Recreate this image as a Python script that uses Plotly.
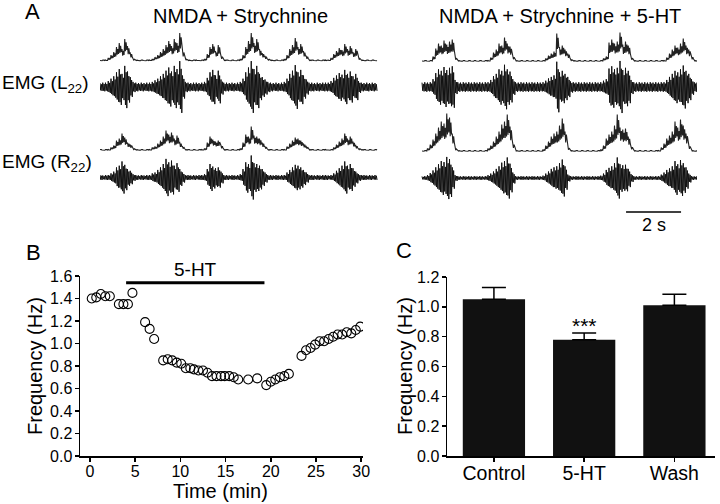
import plotly.graph_objects as go

# ---------------- Panel A: EMG envelopes (sampled every 0.1 s, 10 s sweeps) ----------------
DT = 0.1  # s between samples
emg_left_L = [0.5, 1, 1, 3, 6, 9, 14, 18, 12, 22, 15, 8, 2, 1, 0.5, 1, 0.5, 1, 1, 2,
              4, 6, 9, 12, 16, 20, 15, 22, 18, 28, 10, 2, 1, 0.5, 1, 1, 0.5, 1, 2, 7,
              14, 17, 10, 16, 5, 1, 1, 0.5, 1, 0.5, 1, 2, 6, 14, 20, 28, 18, 22, 12, 8,
              5, 2, 1, 0.5, 1, 0.5, 1, 2, 6, 12, 16, 23, 14, 17, 10, 5, 1, 1, 0.5, 1,
              0.5, 1, 1, 1, 3, 7, 10, 13, 11, 17, 12, 15, 9, 12, 3, 1, 0.5, 1, 0.5, 1, 0.5]
emg_left_R = [1, 0.5, 1, 1, 3, 5, 10, 12, 17, 13, 8, 6, 2, 1, 0.5, 1, 0.5, 1, 1, 3,
              4, 7, 10, 14, 20, 16, 18, 12, 15, 8, 4, 1, 1, 0.5, 1, 0.5, 1, 1, 2, 8,
              14, 11, 9, 10, 5, 1, 1, 0.5, 1, 0.5, 1, 2, 8, 16, 14, 24, 15, 14, 12, 8,
              4, 1, 1, 0.5, 1, 0.5, 1, 1, 4, 7, 10, 13, 12, 10, 7, 4, 1, 1, 0.5, 1,
              0.5, 1, 1, 0.5, 1, 3, 6, 9, 12, 17, 12, 14, 9, 5, 2, 1, 1, 0.5, 1, 0.5, 1]
emg_right_L = [0.5, 1, 0.5, 1, 5, 13, 18, 16, 21, 17, 20, 22, 4, 1, 0.5, 1, 0.5, 1, 0.5, 1,
               0.5, 1, 0.5, 1, 1, 4, 9, 12, 18, 16, 24, 18, 15, 5, 1, 0.5, 1, 0.5, 1, 0.5,
               1, 0.5, 1, 0.5, 1, 3, 6, 8, 10, 28, 14, 16, 12, 8, 2, 1, 0.5, 1, 0.5, 1,
               0.5, 1, 0.5, 1, 0.5, 1, 3, 5, 19, 22, 18, 20, 29, 17, 20, 16, 4, 1, 0.5, 1,
               0.5, 1, 0.5, 1, 0.5, 1, 0.5, 1, 1, 4, 8, 12, 16, 14, 18, 23, 16, 12, 5, 1, 0.5]
emg_right_R = [0.5, 1, 3, 7, 12, 18, 24, 30, 28, 38, 34, 18, 3, 1, 0.5, 1, 0.5, 1, 0.5, 1,
               0.5, 1, 0.5, 1, 3, 6, 10, 15, 20, 27, 30, 37, 25, 8, 1, 0.5, 1, 0.5, 1, 0.5,
               1, 0.5, 1, 0.5, 2, 6, 10, 15, 18, 20, 26, 33, 20, 4, 1, 0.5, 1, 0.5, 1, 0.5,
               1, 0.5, 1, 0.5, 1, 2, 6, 13, 17, 20, 26, 37, 24, 22, 23, 15, 5, 1, 0.5, 1,
               0.5, 1, 0.5, 1, 0.5, 1, 1, 4, 8, 13, 16, 20, 30, 24, 32, 26, 18, 6, 1, 0.5, 1]
scale_bar_s = 2.0
scale_bar_label = "2 s"
cond_titles = ["NMDA + Strychnine", "NMDA + Strychnine + 5-HT"]
emg_labels = ["EMG (L<sub>22</sub>)", "EMG (R<sub>22</sub>)"]

# ---------------- Panel B: burst frequency over time ----------------
time_min = [0.2, 0.7, 1.2, 1.7, 2.2, 3.2, 3.7, 4.2, 4.7, 6.1, 6.6, 7.1, 8.1, 8.6, 9.1,
            9.6, 10.1, 10.6, 11.1, 11.5, 12.0, 12.5, 13.0, 13.5, 14.0, 14.5, 14.9, 15.4,
            15.9, 16.4, 17.5, 18.5, 19.5, 20.0, 20.5, 21.0, 21.5, 22.0, 23.4, 23.9, 24.4,
            24.9, 25.4, 25.9, 26.4, 26.9, 27.4, 27.9, 28.4, 28.9, 29.4, 29.9]
freq_hz = [1.40, 1.41, 1.44, 1.42, 1.42, 1.35, 1.35, 1.35, 1.45, 1.19, 1.13, 1.04, 0.85,
           0.86, 0.85, 0.83, 0.82, 0.78, 0.78, 0.77, 0.76, 0.76, 0.74, 0.71, 0.71, 0.71,
           0.71, 0.71, 0.70, 0.68, 0.68, 0.69, 0.63, 0.66, 0.68, 0.70, 0.71, 0.73, 0.89,
           0.94, 0.96, 0.99, 1.02, 1.02, 1.04, 1.06, 1.08, 1.08, 1.10, 1.09, 1.12, 1.15]
ht_start, ht_end = 4.0, 19.3
b_xticks = [0, 5, 10, 15, 20, 25, 30]

# ---------------- Panel C: mean frequency ----------------
conditions = ["Control", "5-HT", "Wash"]
mean_hz = [1.05, 0.78, 1.01]
sem_hz = [0.08, 0.045, 0.075]
signif = ["", "***", ""]

FONT = "Liberation Sans, Arial, sans-serif"
W, H = 720, 504


def px(x):
    return x / W


def py(y):
    return 1 - y / H


fig = go.Figure()

# Panel A traces: (data, time offset, integrated baseline, raw baseline, noise, gain)
SWEEP_GAP = 11.71
traces_a = [
    (emg_left_L, 0.0, 61.0, 87.0, 3.5, 0.8),
    (emg_left_R, 0.0, 150.5, 177.5, 1.6, 0.85),
    (emg_right_L, SWEEP_GAP, 61.5, 87.0, 4.0, 0.76),
    (emg_right_R, SWEEP_GAP, 151.5, 178.0, 1.3, 0.52),
]
for data, off, b_int, b_raw, noise, gain in traces_a:
    ix, iy = [], []
    for i, v in enumerate(data):
        t = off + i * DT
        ix += [t, t + DT / 4, t + DT / 2, t + 3 * DT / 4]
        iy += [b_int - v, b_int - 0.45 * v, b_int - 0.85 * v, b_int - 0.5 * v]
    fig.add_trace(go.Scatter(x=ix, y=iy, mode="lines",
                             line=dict(color="#222222", width=1.1), xaxis="x", yaxis="y",
                             hoverinfo="skip"))
    zx, zy = [], []
    for i, v in enumerate(data):
        a = noise + gain * v
        t = off + i * DT
        zx += [t, t + DT / 4, t + DT / 2, t + 3 * DT / 4]
        zy += [b_raw - a, b_raw + a * 0.85, b_raw - a * 0.7, b_raw + a]
    fig.add_trace(go.Scatter(x=zx, y=zy, mode="lines",
                             line=dict(color="#111111", width=1), xaxis="x", yaxis="y",
                             hoverinfo="skip"))

# scale bar
sb_end = SWEEP_GAP + 10 - 0.58
fig.add_trace(go.Scatter(x=[sb_end - scale_bar_s, sb_end], y=[212, 212], mode="lines",
                         line=dict(color="black", width=1.5), xaxis="x", yaxis="y"))

# Panel B
fig.add_trace(go.Scatter(x=time_min, y=freq_hz, mode="markers", xaxis="x2", yaxis="y2",
                         marker=dict(symbol="circle-open", size=9, color="black",
                                     line=dict(width=1.1))))

# Panel C
fig.add_trace(go.Bar(x=conditions, y=mean_hz, xaxis="x3", yaxis="y3", width=0.69,
                     marker=dict(color="#111111", line=dict(width=0)),
                     error_y=dict(type="data", symmetric=False, array=sem_hz,
                                  arrayminus=[0] * len(sem_hz), color="black",
                                  thickness=1.5, width=12)))

axis_common = dict(showgrid=False, zeroline=False, showline=True, linecolor="black",
                   linewidth=1.5, ticks="outside", ticklen=4, tickwidth=1.5,
                   tickcolor="black", automargin=False)
num_font = dict(size=16, family=FONT, color="black")

fig.update_layout(
    width=W, height=H, margin=dict(l=0, r=0, t=0, b=0, pad=0), autosize=False,
    paper_bgcolor="white", plot_bgcolor="white", showlegend=False,
    font=dict(family=FONT, color="black"),
    xaxis=dict(domain=[px(100), px(697)], range=[0, SWEEP_GAP + 10], visible=False,
               anchor="y", automargin=False),
    yaxis=dict(domain=[py(240), py(20)], range=[240, 20], visible=False, anchor="x",
               automargin=False),
    xaxis2=dict(domain=[px(80), px(363)], range=[-1.1, 30.2], anchor="y2",
                tickvals=b_xticks, tickfont=num_font, ticklabelstandoff=-4, **axis_common),
    yaxis2=dict(domain=[py(456), py(276)], range=[0, 1.6], anchor="x2", dtick=0.2,
                tickformat=".1f", tickfont=num_font, ticklabelstandoff=-1, **axis_common),
    xaxis3=dict(domain=[px(447), px(715)], range=[-0.52, 2.45], anchor="y3",
                type="category", tickfont=dict(size=19.5, family=FONT, color="black"),
                ticklabelstandoff=-5, **axis_common),
    yaxis3=dict(domain=[py(456), py(277)], range=[0, 1.2], anchor="x3", dtick=0.2,
                tickformat=".1f", tickfont=num_font, ticklabelstandoff=-1, **axis_common),
)

# 5-HT application bar in B
fig.add_shape(type="line", xref="x2", yref="y2", x0=ht_start, x1=ht_end, y0=1.54, y1=1.54,
              line=dict(color="black", width=3))


def note(text, x, y, size, xref="paper", yref="paper", **kw):
    d = dict(x=x, y=y, xref=xref, yref=yref, text=text, showarrow=False,
             xanchor="center", yanchor="middle", font=dict(size=size, family=FONT,
                                                           color="black"))
    d.update(kw)
    return d


ann = []
ann.append(note("5-HT", (ht_start + ht_end) / 2, py(269), 19, xref="x2"))
for i, s in enumerate(signif):
    if s:
        ann.append(note(s, conditions[i], mean_hz[i] + sem_hz[i], 21, xref="x3", yref="y3",
                        yanchor="bottom", yshift=-6))
# axis titles
ann.append(note("Time (min)", px(220), py(491), 20))
ann.append(note("Frequency (Hz)", px(35), py(366), 20, textangle=-90))
ann.append(note("Frequency (Hz)", px(405), py(366), 20, textangle=-90))
# panel letters
for letter, (lx, ly) in zip(["A", "B", "C"], [(32, 11), (33, 252), (404, 250)]):
    ann.append(note(letter, px(lx), py(ly), 22))
# condition titles
for txt, cx in zip(cond_titles, [240, 560]):
    ann.append(note(txt, px(cx), py(16), 20))
# EMG labels
for txt, ly in zip(emg_labels, [84, 163]):
    ann.append(note(txt, 0, py(ly), 19, xanchor="left"))
# scale bar label
ann.append(note(scale_bar_label, sb_end - scale_bar_s / 2, 225, 18, xref="x", yref="y"))
fig.update_layout(annotations=ann)

fig.write_html("out.html", config={"displayModeBar": False, "staticPlot": True},
               post_script="document.body.style.margin='0px';"
                           "document.body.style.overflow='hidden';")
